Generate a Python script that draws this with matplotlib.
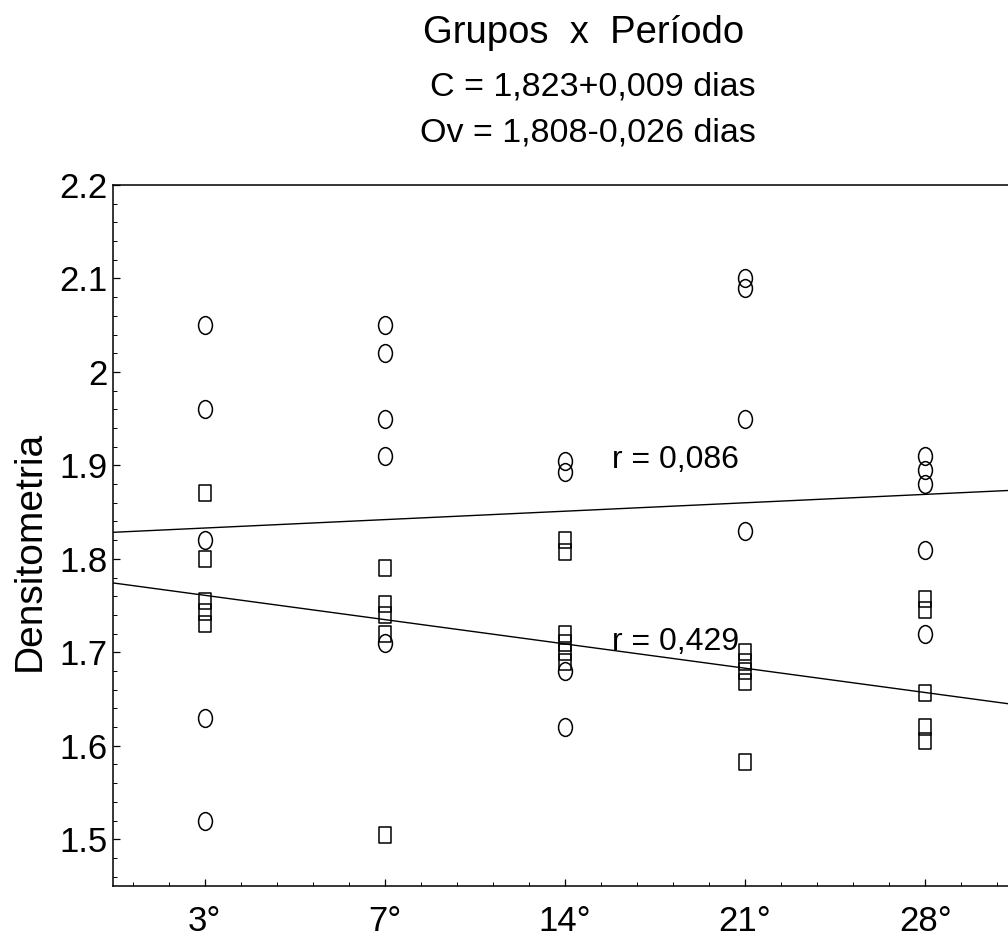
import numpy as np
import matplotlib
matplotlib.use("Agg")
import matplotlib.pyplot as plt
from matplotlib.path import Path
from matplotlib.transforms import Affine2D
from matplotlib.ticker import MultipleLocator

plt.rcParams['font.family'] = ['Liberation Sans', 'DejaVu Sans']

# categories (days)
periods = ["3°", "7°", "14°", "21°", "28°"]

# circles (group C), one list per period
c_3 = [2.05, 1.96, 1.82, 1.63, 1.52]
c_7 = [2.05, 2.02, 1.95, 1.91, 1.71]
c_14 = [1.905, 1.893, 1.68, 1.62]
c_21 = [2.10, 2.09, 1.95, 1.83]
c_28 = [1.91, 1.895, 1.88, 1.81, 1.72]

# squares (group Ov)
ov_3 = [1.87, 1.80, 1.755, 1.743, 1.73]
ov_7 = [1.79, 1.752, 1.74, 1.72, 1.505]
ov_14 = [1.82, 1.807, 1.72, 1.71, 1.70, 1.69]
ov_21 = [1.70, 1.69, 1.68, 1.668, 1.583]
ov_28 = [1.757, 1.745, 1.657, 1.62, 1.605]

# regression lines as drawn (intercept, slope per period step)
c_fit = (1.824, 0.009)
ov_fit = (1.787, -0.026)

r_labels = ["r = 0,086", "r = 0,429"]

c_groups = [c_3, c_7, c_14, c_21, c_28]
ov_groups = [ov_3, ov_7, ov_14, ov_21, ov_28]
xpos = np.arange(1, len(periods) + 1)

# slightly tall ellipse / rectangle markers like the scanned plot
ell = Path.unit_circle().transformed(Affine2D().scale(0.78, 1.0))
rect = Path([(-0.37, -0.5), (0.37, -0.5), (0.37, 0.5), (-0.37, 0.5), (-0.37, -0.5)],
            [Path.MOVETO, Path.LINETO, Path.LINETO, Path.LINETO, Path.CLOSEPOLY])

fig = plt.figure(figsize=(10.08, 9.38), dpi=100)
ax = fig.add_axes([113 / 1008, 52 / 938, 904 / 1008, 701 / 938])

for x, vals in zip(xpos, c_groups):
    ax.plot([x] * len(vals), vals, linestyle='none', marker=ell, markersize=12.8,
            markerfacecolor='none', markeredgecolor='black', markeredgewidth=1.1)
for x, vals in zip(xpos, ov_groups):
    ax.plot([x] * len(vals), vals, linestyle='none', marker=rect, markersize=12,
            markerfacecolor='none', markeredgecolor='black', markeredgewidth=1.1)

xl = np.array([0.49, 5.51])
ax.plot(xl, c_fit[0] + c_fit[1] * xl, color='black', lw=1.0)
ax.plot(xl, ov_fit[0] + ov_fit[1] * xl, color='black', lw=1.0)

ax.text(3.26, 1.897, r_labels[0], fontsize=23, ha='left', va='baseline')
ax.text(3.26, 1.703, r_labels[1], fontsize=23, ha='left', va='baseline')

ax.set_xlim(0.49, 5.51)
ax.set_ylim(1.45, 2.2)
ax.set_xticks(xpos)
ax.set_xticklabels(periods)
ax.set_yticks([1.5, 1.6, 1.7, 1.8, 1.9, 2.0, 2.1, 2.2])
ax.set_yticklabels(["1.5", "1.6", "1.7", "1.8", "1.9", "2", "2.1", "2.2"])
ax.xaxis.set_minor_locator(MultipleLocator(0.2))
ax.yaxis.set_minor_locator(MultipleLocator(0.02))
ax.tick_params(axis='both', which='major', direction='in', length=5, width=0.9, labelsize=25)
ax.tick_params(axis='both', which='minor', direction='in', length=3, width=0.7)
ax.tick_params(axis='y', which='major', pad=4)
ax.tick_params(axis='x', which='major', pad=14)
for s in ax.spines.values():
    s.set_linewidth(1.1)

fig.text(30 / 1008, (938 - 551) / 938, "Densitometria", rotation=90,
         fontsize=28, ha='center', va='center')

fig.text(584 / 1008, (938 - 43) / 938, "Grupos  x  Período", fontsize=27.5,
         ha='center', va='baseline')
fig.text(593 / 1008, (938 - 95) / 938, "C = 1,823+0,009 dias", fontsize=24.5,
         ha='center', va='baseline')
fig.text(588 / 1008, (938 - 142) / 938, "Ov = 1,808-0,026 dias", fontsize=24.5,
         ha='center', va='baseline')

fig.savefig("out.png", dpi=100)
